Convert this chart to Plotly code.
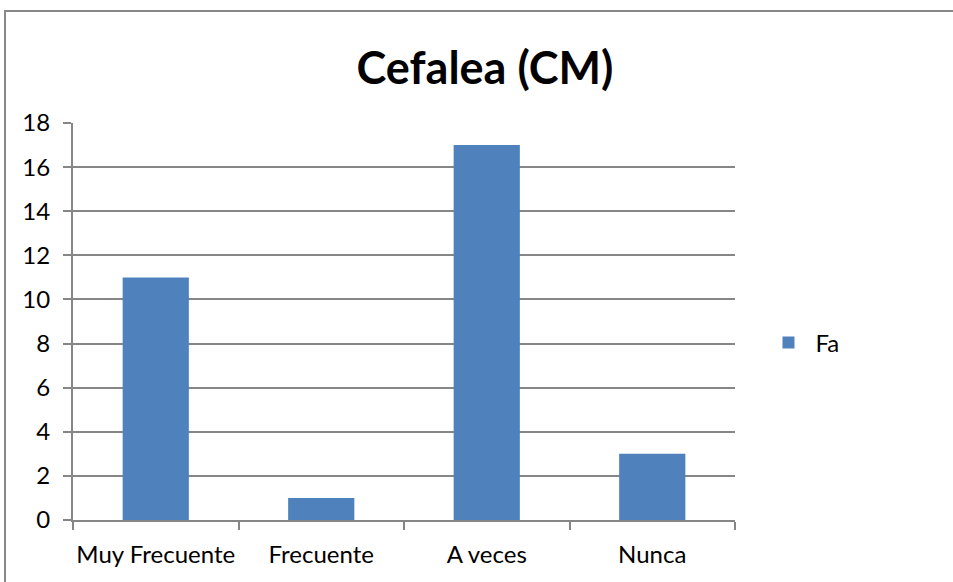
import plotly.graph_objects as go

categories = ["Muy Frecuente", "Frecuente", "A veces", "Nunca"]
fa_values = [11, 1, 17, 3]
y_ticks = [0, 2, 4, 6, 8, 10, 12, 14, 16, 18]

BAR = "#4f81bd"
GRID = "#868686"
FONT = "Lato, Calibri, sans-serif"

fig = go.Figure()
fig.add_trace(go.Bar(
    x=categories, y=fa_values, name="Fa",
    marker=dict(color=BAR, line=dict(width=0)),
    width=0.4,
))

fig.update_layout(
    width=953, height=582,
    margin=dict(l=73, r=218, t=123, b=62, autoexpand=False),
    paper_bgcolor="white", plot_bgcolor="white",
    font=dict(family=FONT, size=24, color="black"),
    title=dict(text="<b>Cefalea (CM)</b>", x=485 / 953, xanchor="center",
               y=1 - 68 / 582, yanchor="middle",
               font=dict(family=FONT, size=45, color="black")),
    showlegend=True,
    legend=dict(x=1.04, y=(520 - 343) / 397, xanchor="left", yanchor="middle",
                font=dict(size=24), bgcolor="rgba(0,0,0,0)",
                itemwidth=44),
    bargap=0.6,
)

fig.update_xaxes(
    type="category", showgrid=False, showline=True, linecolor=GRID, linewidth=2,
    ticks="outside", tickson="boundaries", ticklen=8, tickcolor=GRID, tickwidth=2,
    tickfont=dict(size=24), tickangle=0, automargin=False,
    ticklabelstandoff=12, fixedrange=True,
)
fig.update_yaxes(
    range=[0, 18], tickvals=y_ticks, showgrid=True, gridcolor=GRID, gridwidth=1.5,
    showline=True, linecolor=GRID, linewidth=2, zeroline=False,
    ticks="outside", ticklen=8, tickcolor=GRID, tickwidth=2,
    tickfont=dict(size=24), ticklabelstandoff=8, automargin=False,
)

# outer chart frame
fig.add_shape(type="rect", xref="paper", yref="paper",
              x0=-68 / 662, x1=1.5, y0=-0.5, y1=1 + 112 / 397,
              line=dict(color="#888888", width=2), layer="below")

fig.write_html("out.html")
